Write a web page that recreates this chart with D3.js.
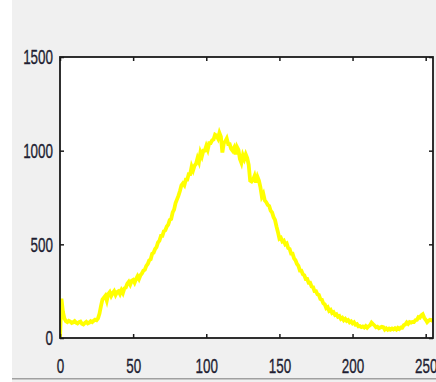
<!DOCTYPE html>
<html>
<head>
<meta charset="utf-8">
<script src="https://cdn.jsdelivr.net/npm/d3@7"></script>
<style>
  html, body { margin: 0; padding: 0; background: #f0f0f0; }
  svg { display: block; }
</style>
</head>
<body>
<svg id="chart" width="436" height="382"></svg>
<script>
// Histogram counts for intensity levels 0..255
const levels = d3.range(0, 256);
const counts = [
  0, 210, 140, 105, 90, 85, 92, 88, 80, 84,
  90, 82, 78, 85, 88, 76, 72, 80, 86, 78,
  82, 90, 85, 92, 98, 95, 105, 130, 170, 205,
  215, 225, 200, 235, 245, 225, 240, 250, 230, 245,
  250, 235, 255, 240, 265, 270, 290, 300, 285, 305,
  310, 295, 315, 330, 315, 335, 345, 360, 365, 385,
  395, 415, 420, 450, 455, 475, 485, 510, 520, 545,
  545, 570, 575, 595, 605, 630, 635, 670, 685, 720,
  740, 760, 785, 815, 825, 815, 845, 845, 875, 875,
  915, 895, 920, 930, 960, 940, 990, 970, 1000, 1000,
  1025, 1005, 1040, 1040, 1055, 1060, 1085, 1080, 1065, 1095,
  1075, 990, 1040, 1050, 1065, 1035, 1035, 1010, 1000, 1015,
  980, 1020, 1005, 955, 935, 975, 955, 980, 960, 925,
  840, 835, 845, 865, 830, 860, 840, 805, 755, 770,
  735, 725, 710, 705, 680, 670, 645, 630, 595, 565,
  530, 535, 515, 520, 500, 505, 480, 475, 450, 450,
  425, 415, 395, 385, 360, 360, 340, 335, 315, 315,
  295, 295, 275, 272, 250, 250, 233, 230, 208, 205,
  185, 180, 160, 165, 145, 150, 133, 138, 123, 127,
  113, 117, 102, 108, 95, 102, 91, 96, 84, 89,
  78, 84, 71, 74, 62, 64, 58, 62, 56, 64,
  55, 63, 68, 82, 74, 67, 57, 60, 52, 56,
  60, 58, 45, 52, 44, 50, 45, 51, 46, 52,
  45, 54, 48, 56, 55, 68, 72, 83, 75, 85,
  82, 86, 85, 95, 97, 111, 108, 121, 127, 108,
  97, 84, 92, 97, 96, 90
];
const xTicks = [0, 50, 100, 150, 200, 250];
const yTicks = [0, 500, 1000, 1500];

const svg = d3.select("#chart");
const L = 60, R = 433, T = 57, B = 338;

// left white strip and bottom separator like the window frame
svg.append("rect").attr("x", 0).attr("y", 0).attr("width", 12).attr("height", 382).attr("fill", "#ffffff");
svg.append("rect").attr("x", 12).attr("y", 378).attr("width", 424).attr("height", 1.5).attr("fill", "#a0a0a0");

const x = d3.scaleLinear().domain([0, 255]).range([L, R]);
const y = d3.scaleLinear().domain([0, 1500]).range([B, T]);

svg.append("rect").attr("x", L).attr("y", T).attr("width", R - L).attr("height", B - T).attr("fill", "#ffffff");

svg.append("clipPath").attr("id", "clip").append("rect")
  .attr("x", L).attr("y", T).attr("width", R - L).attr("height", B - T);

const line = d3.line().x((d, i) => x(levels[i])).y(d => y(d));
svg.append("path")
  .datum(counts)
  .attr("clip-path", "url(#clip)")
  .attr("fill", "none")
  .attr("stroke", "#ffff00")
  .attr("stroke-width", 3.8)
  .attr("stroke-linejoin", "miter")
  .attr("d", line);

function styleAxis(g) {
  g.select(".domain").remove();
  g.selectAll(".tick line").attr("stroke", "#1a1a1a").attr("stroke-width", 1.5);
  g.selectAll("text")
    .attr("fill", "#1e1e32")
    .attr("stroke", "#1e1e32")
    .attr("stroke-width", 0.35)
    .style("font-family", "'Liberation Sans', Arial, sans-serif")
    .style("font-size", "21px");
}

const gx = svg.append("g").attr("transform", `translate(0,${B})`)
  .call(d3.axisBottom(x).tickValues(xTicks).tickFormat(d3.format("d"))
    .tickSizeInner(-4).tickSizeOuter(0).tickPadding(20));
styleAxis(gx);
gx.selectAll("text").attr("transform", "scale(0.64,1)");

const gy = svg.append("g").attr("transform", `translate(${L},0)`)
  .call(d3.axisLeft(y).tickValues(yTicks).tickFormat(d3.format("d"))
    .tickSizeInner(-4).tickSizeOuter(0).tickPadding(7));
styleAxis(gy);
gy.selectAll("text").attr("x", 0).attr("transform", "translate(-7,0) scale(0.64,1)");

const gt = svg.append("g").attr("transform", `translate(0,${T})`)
  .call(d3.axisTop(x).tickValues(xTicks).tickFormat("").tickSizeInner(-4).tickSizeOuter(0));
styleAxis(gt);
const gr = svg.append("g").attr("transform", `translate(${R},0)`)
  .call(d3.axisRight(y).tickValues(yTicks).tickFormat("").tickSizeInner(-4).tickSizeOuter(0));
styleAxis(gr);

svg.append("rect").attr("x", L).attr("y", T).attr("width", R - L).attr("height", B - T)
  .attr("fill", "none").attr("stroke", "#1a1a1a").attr("stroke-width", 1.8);
</script>
</body>
</html>
